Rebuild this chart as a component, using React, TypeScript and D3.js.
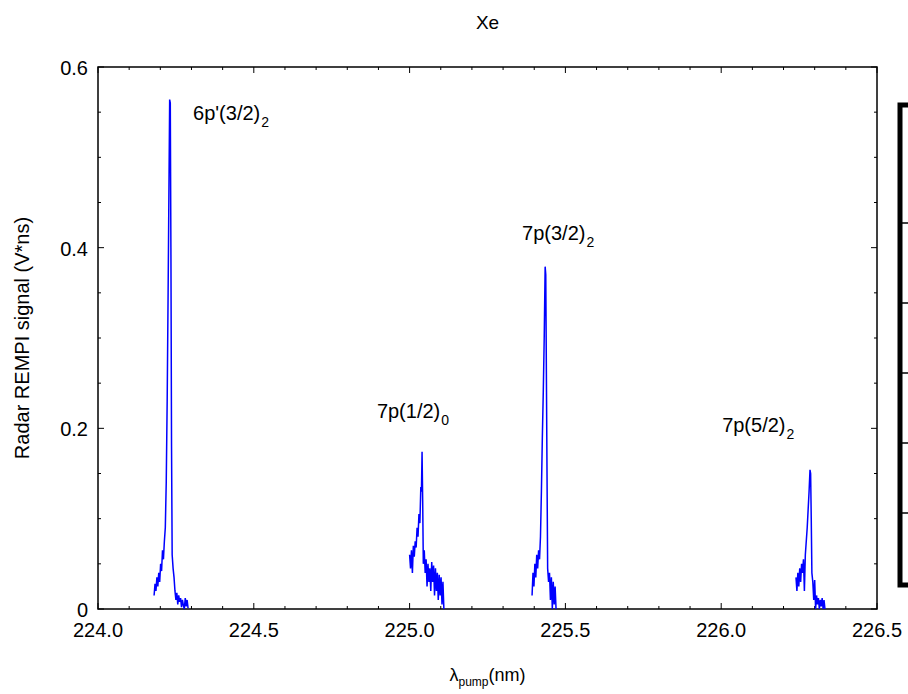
import React, { useEffect, useRef } from 'react'
import * as d3 from 'd3'

// peak 6p'(3/2)2
const lam1 = [224.180, 224.183, 224.186, 224.189, 224.192, 224.195, 224.198, 224.201, 224.204, 224.207, 224.210, 224.213, 224.216, 224.219, 224.222, 224.225, 224.228, 224.230, 224.232, 224.234, 224.236, 224.238, 224.241, 224.244, 224.247, 224.250, 224.253, 224.256, 224.259, 224.262, 224.265, 224.268, 224.271, 224.274, 224.277, 224.280, 224.283, 224.286, 224.289]
const sig1 = [0.015, 0.028, 0.020, 0.035, 0.025, 0.040, 0.030, 0.050, 0.042, 0.065, 0.055, 0.075, 0.090, 0.140, 0.230, 0.350, 0.480, 0.564, 0.560, 0.400, 0.180, 0.060, 0.045, 0.035, 0.020, 0.010, 0.018, 0.005, 0.015, 0.008, 0.012, 0.002, 0.010, 0.004, 0.000, 0.012, 0.003, 0.010, 0.001]

// peak 7p(1/2)0
const lam2 = [225.000, 225.003, 225.006, 225.009, 225.012, 225.015, 225.018, 225.021, 225.024, 225.027, 225.030, 225.033, 225.036, 225.038, 225.040, 225.042, 225.044, 225.047, 225.050, 225.053, 225.056, 225.059, 225.062, 225.065, 225.068, 225.071, 225.074, 225.077, 225.080, 225.083, 225.086, 225.089, 225.092, 225.095, 225.098, 225.101, 225.104, 225.107, 225.110]
const sig2 = [0.060, 0.045, 0.065, 0.040, 0.070, 0.058, 0.075, 0.068, 0.090, 0.080, 0.105, 0.095, 0.135, 0.130, 0.174, 0.120, 0.050, 0.065, 0.040, 0.055, 0.025, 0.050, 0.030, 0.045, 0.020, 0.052, 0.030, 0.048, 0.015, 0.045, 0.020, 0.040, 0.010, 0.038, 0.015, 0.035, 0.005, 0.030, 0.000]

// peak 7p(3/2)2
const lam3 = [225.393, 225.396, 225.399, 225.402, 225.405, 225.408, 225.411, 225.414, 225.417, 225.420, 225.423, 225.426, 225.429, 225.432, 225.435, 225.437, 225.439, 225.441, 225.443, 225.446, 225.449, 225.452, 225.455, 225.458, 225.461, 225.464, 225.467, 225.470]
const sig3 = [0.015, 0.040, 0.025, 0.050, 0.035, 0.060, 0.045, 0.065, 0.055, 0.080, 0.130, 0.190, 0.240, 0.300, 0.379, 0.370, 0.260, 0.150, 0.045, 0.030, 0.040, 0.010, 0.035, 0.000, 0.030, 0.005, 0.025, 0.000]

// peak 7p(5/2)2
const lam4 = [226.240, 226.243, 226.246, 226.249, 226.252, 226.255, 226.258, 226.261, 226.264, 226.267, 226.270, 226.273, 226.276, 226.279, 226.282, 226.285, 226.287, 226.289, 226.291, 226.294, 226.297, 226.300, 226.303, 226.306, 226.309, 226.312, 226.315, 226.318, 226.321, 226.324, 226.327, 226.330, 226.333]
const sig4 = [0.035, 0.020, 0.040, 0.025, 0.045, 0.030, 0.050, 0.040, 0.055, 0.020, 0.060, 0.075, 0.090, 0.110, 0.130, 0.154, 0.150, 0.100, 0.040, 0.030, 0.010, 0.032, 0.000, 0.015, 0.005, 0.012, 0.000, 0.010, 0.003, 0.012, 0.000, 0.010, 0.000]

// peak labels, anchored in data units (left edge, baseline)
const labelMain = ["6p'(3/2)", '7p(1/2)', '7p(3/2)', '7p(5/2)']
const labelSub = ['2', '0', '2', '2']
const labelLam = [224.305, 224.895, 225.361, 226.003]
const labelSig = [0.541, 0.2115, 0.4085, 0.196]

const xTicks = [224.0, 224.5, 225.0, 225.5, 226.0, 226.5]
const yTicks = [0, 0.2, 0.4, 0.6]
const legendTicks = [223, 303, 373, 443, 513]

export default function App() {
  const ref = useRef<HTMLDivElement>(null)

  useEffect(() => {
    d3.select(ref.current).selectAll('*').remove()

    const W = 908, H = 694
    const left = 98, right = 877, top = 67, bottom = 609
    const font = '"Liberation Sans", Arial, sans-serif'

    const svg = d3.select(ref.current)
      .append('svg')
      .attr('width', W)
      .attr('height', H)
      .style('display', 'block')
      .style('font-family', font)

    const x = d3.scaleLinear().domain([224.0, 226.5]).range([left, right])
    const y = d3.scaleLinear().domain([0, 0.6]).range([bottom, top])

    // minor ticks (0.1 nm / 0.05), majors a bit longer
    const xMinor = d3.range(0, 26).map(i => 224.0 + i * 0.1)
    const yMinor = d3.range(0, 13).map(i => i * 0.05)

    const tk = svg.append('g').attr('stroke', '#000').attr('stroke-width', 1)
    xMinor.forEach((v, i) => {
      const len = i % 5 === 0 ? 6 : 3
      tk.append('line').attr('x1', x(v)).attr('x2', x(v)).attr('y1', bottom).attr('y2', bottom - len)
      tk.append('line').attr('x1', x(v)).attr('x2', x(v)).attr('y1', top).attr('y2', top + len)
    })
    yMinor.forEach((v, i) => {
      const len = i % 4 === 0 ? 6 : 3
      tk.append('line').attr('x1', left).attr('x2', left + len).attr('y1', y(v)).attr('y2', y(v))
      tk.append('line').attr('x1', right).attr('x2', right - len).attr('y1', y(v)).attr('y2', y(v))
    })

    // frame
    svg.append('rect')
      .attr('x', left).attr('y', top)
      .attr('width', right - left).attr('height', bottom - top)
      .attr('fill', 'none').attr('stroke', '#000').attr('stroke-width', 1.5)

    // tick labels
    svg.selectAll('text.xt')
      .data(xTicks)
      .enter().append('text')
      .attr('class', 'xt')
      .attr('x', d => x(d))
      .attr('y', bottom + 28)
      .attr('text-anchor', 'middle')
      .attr('font-size', 20)
      .text(d => d.toFixed(1))

    svg.selectAll('text.yt')
      .data(yTicks)
      .enter().append('text')
      .attr('class', 'yt')
      .attr('x', left - 10)
      .attr('y', d => y(d) + 8)
      .attr('text-anchor', 'end')
      .attr('font-size', 20)
      .text(d => d === 0 ? '0' : d.toFixed(1))

    // signal traces
    const line = d3.line<[number, number]>()
      .x(d => x(d[0]))
      .y(d => y(d[1]))
    const traces: [number[], number[]][] = [[lam1, sig1], [lam2, sig2], [lam3, sig3], [lam4, sig4]]
    traces.forEach(([lam, sig]) => {
      svg.append('path')
        .datum(lam.map((l, i) => [l, sig[i]] as [number, number]))
        .attr('d', line)
        .attr('fill', 'none')
        .attr('stroke', '#0000ff')
        .attr('stroke-width', 1.5)
    })

    // peak labels
    labelMain.forEach((m, i) => {
      const t = svg.append('text')
        .attr('x', x(labelLam[i]))
        .attr('y', y(labelSig[i]))
        .attr('font-size', 20)
      t.append('tspan').text(m)
      t.append('tspan').attr('dx', 1).attr('dy', 7).attr('font-size', 14).text(labelSub[i])
    })

    // title and axis titles
    svg.append('text')
      .attr('x', (left + right) / 2)
      .attr('y', 29)
      .attr('text-anchor', 'middle')
      .attr('font-size', 19)
      .text('Xe')

    const xl = svg.append('text')
      .attr('x', (left + right) / 2)
      .attr('y', 681)
      .attr('text-anchor', 'middle')
      .attr('font-size', 18)
    xl.append('tspan').text('λ')
    xl.append('tspan').attr('dy', 5).attr('font-size', 12).text('pump')
    xl.append('tspan').attr('dy', -5).text('(nm)')

    svg.append('text')
      .attr('transform', `translate(29,${(top + bottom) / 2}) rotate(-90)`)
      .attr('text-anchor', 'middle')
      .attr('font-size', 20)
      .text('Radar REMPI signal (V*ns)')

    // clipped legend box at the right edge
    svg.append('path')
      .attr('d', 'M910,105 H900 V585 H910')
      .attr('fill', 'none')
      .attr('stroke', '#000')
      .attr('stroke-width', 5)
    svg.selectAll('line.lg')
      .data(legendTicks)
      .enter().append('line')
      .attr('class', 'lg')
      .attr('x1', 902).attr('x2', 910)
      .attr('y1', d => d).attr('y2', d => d)
      .attr('stroke', '#000').attr('stroke-width', 1.5)
  }, [])

  return (
    <div ref={ref} style={{ position: 'absolute', left: 0, top: 0 }}></div>
  )
}
